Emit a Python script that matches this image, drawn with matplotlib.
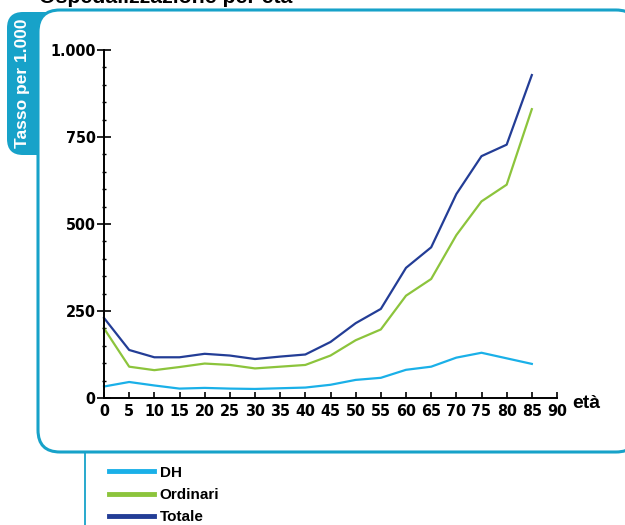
import matplotlib.pyplot as plt
from matplotlib.patches import FancyBboxPatch
from matplotlib.lines import Line2D
from matplotlib.ticker import MultipleLocator, FuncFormatter

eta = [0, 5, 10, 15, 20, 25, 30, 35, 40, 45, 50, 55, 60, 65, 70, 75, 80, 85]
dh = [33, 46, 36, 27, 29, 27, 26, 28, 30, 38, 52, 58, 81, 90, 116, 130, 114, 98]
ordinari = [200, 90, 80, 89, 99, 95, 85, 90, 95, 122, 166, 197, 294, 342, 468, 565, 613, 830]
totale = [230, 138, 117, 117, 127, 122, 112, 119, 125, 161, 215, 256, 374, 433, 586, 695, 728, 928]

c_dh = '#1ab0e8'
c_ord = '#8cc43c'
c_tot = '#233d96'
c_frame = '#17a2c9'

W, H = 625, 525
fig = plt.figure(figsize=(W / 100, H / 100), dpi=100)

# background frame, in pixel coords (y down)
bg = fig.add_axes([0, 0, 1, 1], zorder=0)
bg.set_xlim(0, W)
bg.set_ylim(H, 0)
bg.axis('off')
bg.add_patch(FancyBboxPatch((7, 12), 60, 143, boxstyle='round,pad=0,rounding_size=16',
                            facecolor=c_frame, edgecolor='none'))
bg.add_patch(FancyBboxPatch((38, 10), 600, 442, boxstyle='round,pad=0,rounding_size=22',
                            facecolor='white', edgecolor=c_frame, linewidth=2.2))
bg.plot([85, 85], [452, 525], color=c_frame, lw=1.3)
bg.text(23, 83, 'Tasso per 1.000', rotation=90, color='white', fontsize=12.5,
        fontweight='bold', ha='center', va='center', family='Liberation Sans')
# title sits mostly above the top edge, as in the source picture
bg.text(39, 3, 'Ospedalizzazione per età', fontsize=15.3, fontweight='bold',
        ha='left', va='baseline', family='Liberation Sans')

# main chart
ax = fig.add_axes([104 / W, (H - 398) / H, 453 / W, 348 / H], zorder=1)
ax.patch.set_alpha(0)
ax.plot(eta, dh, color=c_dh, lw=1.6, clip_on=False)
ax.plot(eta, ordinari, color=c_ord, lw=1.6, clip_on=False)
ax.plot(eta, totale, color=c_tot, lw=1.6, clip_on=False)

ax.set_xlim(0, 90)
ax.set_ylim(0, 1000)
for s in ['top', 'right']:
    ax.spines[s].set_visible(False)
for s in ['left', 'bottom']:
    ax.spines[s].set_linewidth(1.4)
ax.xaxis.set_major_locator(MultipleLocator(5))
ax.yaxis.set_major_locator(MultipleLocator(250))
ax.yaxis.set_minor_locator(MultipleLocator(50))
ax.yaxis.set_major_formatter(FuncFormatter(lambda v, p: f"{int(v):,}".replace(',', '.')))
ax.tick_params(axis='x', direction='in', length=4, width=1.2, pad=4)
ax.tick_params(axis='y', which='major', direction='inout', length=10, width=1.2, pad=1)
ax.tick_params(axis='y', which='minor', direction='inout', length=3, width=1.0)
for lab in ax.get_xticklabels() + ax.get_yticklabels():
    lab.set_family('DejaVu Sans')
    lab.set_stretch('condensed')
    lab.set_fontweight('bold')
    lab.set_fontsize(11.5)
ax.annotate('età', xy=(90, 0), xytext=(11, -7), textcoords='offset points',
            fontsize=14, fontweight='bold', ha='left', va='baseline',
            family='Liberation Sans', annotation_clip=False)

handles = [Line2D([], [], color=c, lw=3.5) for c in (c_dh, c_ord, c_tot)]
fig.legend(handles, ['DH', 'Ordinari', 'Totale'], loc='upper left',
           bbox_to_anchor=(101 / W, 1 - 458 / H), frameon=False,
           prop={'family': 'Liberation Sans', 'weight': 'bold', 'size': 11},
           handlelength=3.0, handletextpad=0.35, labelspacing=0.55, borderpad=0)

fig.savefig('out.png', dpi=100)
